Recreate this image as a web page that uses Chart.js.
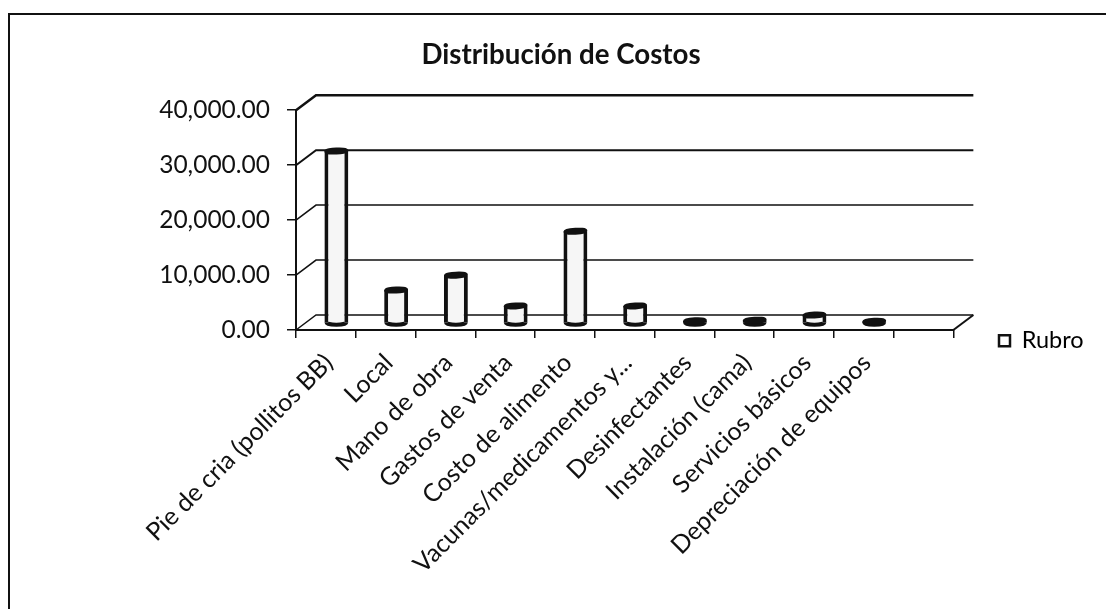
<!DOCTYPE html>
<html>
<head>
<meta charset="utf-8">
<title>Distribución de Costos</title>
<style>
  html, body { margin: 0; padding: 0; background: #fff; overflow: hidden; }
  #wrap { position: absolute; left: 0; top: 0; width: 1106px; height: 609px; }
  #frame { position: absolute; left: 8px; top: 12.5px; right: 0; bottom: 0;
           border-left: 2px solid #111; border-top: 2px solid #111; }
</style>
</head>
<body>
<div id="wrap">
  <div id="frame"></div>
  <canvas id="chart" width="1106" height="609" style="position:absolute;left:0;top:0"></canvas>
</div>
<script src="https://cdn.jsdelivr.net/npm/chart.js@4/dist/chart.umd.min.js"></script>
<script>
const categories = ['Pie de cria (pollitos BB)', 'Local', 'Mano de obra', 'Gastos de venta',
  'Costo de alimento', 'Vacunas/medicamentos y...', 'Desinfectantes', 'Instalación (cama)',
  'Servicios básicos', 'Depreciación de equipos', ''];
const rubro = [31300, 6000, 8700, 3100, 16700, 3100, 400, 500, 1450, 300, null];
const yTicks = [0, 10000, 20000, 30000, 40000];

const ink = '#111';
const font = 'Lato, "Open Sans", sans-serif';
// depth of the 3D floor, and how far into it the bars stand
const depthX = 20, depthY = -15;
const barShiftX = 10.5, barShiftY = -7;

// fake 3D: back wall and floor, hung off the library's scales
const wallPlugin = {
  id: 'wall',
  beforeDatasetsDraw(chart) {
    const { ctx, scales: { x, y } } = chart;
    ctx.save();
    ctx.strokeStyle = ink;
    yTicks.forEach(v => {
      const py = y.getPixelForValue(v);
      ctx.lineWidth = v === 40000 ? 2.5 : v === 30000 ? 2 : 1.5;
      ctx.beginPath();
      ctx.moveTo(x.left, py);
      ctx.lineTo(x.left + depthX, py + depthY);
      ctx.lineTo(x.right + depthX, py + depthY);
      ctx.stroke();
    });
    ctx.lineWidth = 2;
    ctx.beginPath();
    ctx.moveTo(x.right, y.bottom);
    ctx.lineTo(x.right + depthX, y.bottom + depthY);
    ctx.stroke();
    ctx.restore();
    // bars stand halfway back on the floor
    ctx.save();
    ctx.translate(barShiftX, barShiftY);
  },
  afterDatasetsDraw(chart) {
    const { ctx } = chart;
    // round caps turn the flat bars into cylinders
    chart.getDatasetMeta(0).data.forEach((bar, i) => {
      if (rubro[i] === null) return;
      const rx = bar.width / 2 - 2;
      ctx.strokeStyle = ink;
      ctx.fillStyle = ink;
      ctx.lineWidth = 4;
      ctx.beginPath();
      ctx.ellipse(bar.x, bar.base, rx, 2.5, 0, 0, Math.PI);
      ctx.stroke();
      ctx.beginPath();
      ctx.ellipse(bar.x, bar.y, rx, 1.5, -0.05, 0, Math.PI * 2);
      ctx.fill();
      ctx.stroke();
    });
    ctx.restore();
  },
  afterLayout(chart) {
    const lg = chart.legend;
    lg.left = 966;
    lg.right = 1106;
    lg.top = 296;
    lg.bottom = 400;
  }
};

new Chart(document.getElementById('chart'), {
  type: 'bar',
  data: {
    labels: categories,
    datasets: [{
      label: 'Rubro',
      data: rubro,
      backgroundColor: '#f6f6f6',
      borderColor: ink,
      borderWidth: { left: 4, right: 4, top: 0, bottom: 0 },
      barPercentage: 0.4,
      categoryPercentage: 1
    }]
  },
  options: {
    responsive: false,
    animation: false,
    maintainAspectRatio: false,
    layout: { padding: { left: 41, right: 25, top: 38, bottom: 0 } },
    plugins: {
      tooltip: { enabled: false },
      title: {
        display: true,
        text: 'Distribución de Costos',
        color: ink,
        font: { family: font, size: 27.7, weight: 'bold' },
        padding: { top: 0, bottom: 39 }
      },
      legend: {
        position: 'right',
        align: 'start',
        labels: {
          color: ink,
          font: { family: font, size: 23.5 },
          boxWidth: 11,
          boxHeight: 11,
          padding: 33,
          generateLabels: chart => [{
            text: 'Rubro', fillStyle: '#fff', strokeStyle: ink, lineWidth: 2.5, datasetIndex: 0
          }]
        }
      }
    },
    scales: {
      x: {
        grid: { drawOnChartArea: false, drawTicks: true, tickLength: 8, color: ink, lineWidth: 1.5 },
        border: { color: ink, width: 2 },
        ticks: {
          color: ink,
          font: { family: font, size: 25 },
          minRotation: 45,
          maxRotation: 45,
          autoSkip: false,
          labelOffset: 3,
          padding: 10
        },
        afterFit(scale) { scale.height = 279; }
      },
      y: {
        min: 0,
        max: 40000,
        afterBuildTicks(scale) { scale.ticks = yTicks.map(value => ({ value })); },
        grid: { drawOnChartArea: false, drawTicks: true, tickLength: 9, color: ink, lineWidth: 1.5 },
        border: { color: ink, width: 2 },
        ticks: {
          color: ink,
          font: { family: font, size: 24.5 },
          padding: 17,
          callback: v => v.toLocaleString('en-US', { minimumFractionDigits: 2, maximumFractionDigits: 2 })
        },
        afterFit(scale) { scale.width = 255; }
      }
    }
  },
  plugins: [wallPlugin]
});
</script>
</body>
</html>
